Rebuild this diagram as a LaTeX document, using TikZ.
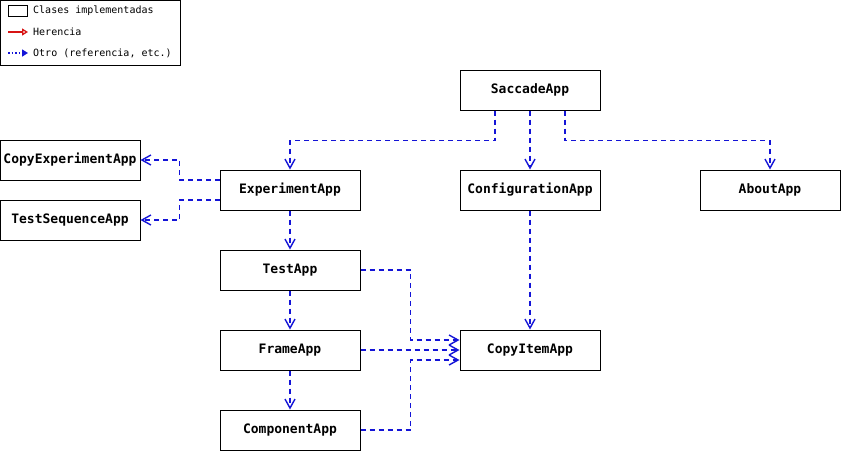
\documentclass[tikz,border=0pt]{standalone}
\usepackage{fontspec}
\setmonofont{DejaVu Sans Mono}
\usetikzlibrary{arrows.meta,calc}
\definecolor{depblue}{RGB}{20,20,215}
\definecolor{inhred}{RGB}{215,20,20}
\tikzset{
  cls/.style={draw=black,line width=1pt,minimum width=140pt,minimum height=40pt,inner sep=0pt,
    font=\ttfamily\bfseries\fontsize{13}{15}\selectfont},
  dep/.style={draw=depblue,line width=1.8pt,dash pattern=on 5pt off 4pt,
    -{Straight Barb[length=9pt,width=10pt,line width=1.4pt]}},
  legtext/.style={anchor=west,inner sep=0pt,font=\ttfamily\fontsize{10}{12}\selectfont}
}
\begin{document}
\begin{tikzpicture}[x=1pt,y=-1pt]
\useasboundingbox (0,0) rectangle (841,451);
% legend
\draw[line width=0.8pt] (0.5,0.5) rectangle (180,65);
\draw[line width=0.8pt] (8,5) rectangle (27,16);
\node[legtext] (l1) at (33,10.5) {Clases implementadas};
\coordinate (r1) at (8,32);
\coordinate (r2) at (28,32);
\draw[inhred,line width=1.5pt,-{Triangle[open,length=6pt,width=7pt,line width=1.3pt]}] (r1) -- (r2);
\node[legtext] (l2) at (33,32) {Herencia};
\coordinate (b1) at (8,53);
\coordinate (b2) at (28,53);
\draw[depblue,line width=1.5pt,dotted,-{Triangle[length=6pt,width=7pt]}] (b1) -- (b2);
\node[legtext] (l3) at (33,53) {Otro (referencia, etc.)};
% classes
\node[cls] (sacc) at (530,90) {SaccadeApp};
\node[cls] (exp) at (290,190) {ExperimentApp};
\node[cls] (conf) at (530,190) {ConfigurationApp};
\node[cls] (about) at (770,190) {AboutApp};
\node[cls] (copyexp) at (70,160) {CopyExperimentApp};
\node[cls] (testseq) at (70,220) {TestSequenceApp};
\node[cls] (test) at (290,270) {TestApp};
\node[cls] (frame) at (290,350) {FrameApp};
\node[cls] (comp) at (290,430) {ComponentApp};
\node[cls] (copyitem) at (530,350) {CopyItemApp};
% dependencies
\draw[dep] ([xshift=-35pt]sacc.south) -- ++(0,30) -| (exp.north);
\draw[dep] (sacc.south) -- (conf.north);
\draw[dep] ([xshift=35pt]sacc.south) -- ++(0,30) -| (about.north);
\draw[dep] ([yshift=10pt]exp.west) -- ++(-40,0) |- (copyexp.east);
\draw[dep] ([yshift=-10pt]exp.west) -- ++(-40,0) |- (testseq.east);
\draw[dep] (exp.south) -- (test.north);
\draw[dep] (test.south) -- (frame.north);
\draw[dep] (frame.south) -- (comp.north);
\draw[dep] (conf.south) -- (copyitem.north);
\draw[dep] (test.east) -- ++(50,0) |- ([yshift=10pt]copyitem.west);
\draw[dep] (frame.east) -- (copyitem.west);
\draw[dep] (comp.east) -- ++(50,0) |- ([yshift=-10pt]copyitem.west);
\end{tikzpicture}
\end{document}
